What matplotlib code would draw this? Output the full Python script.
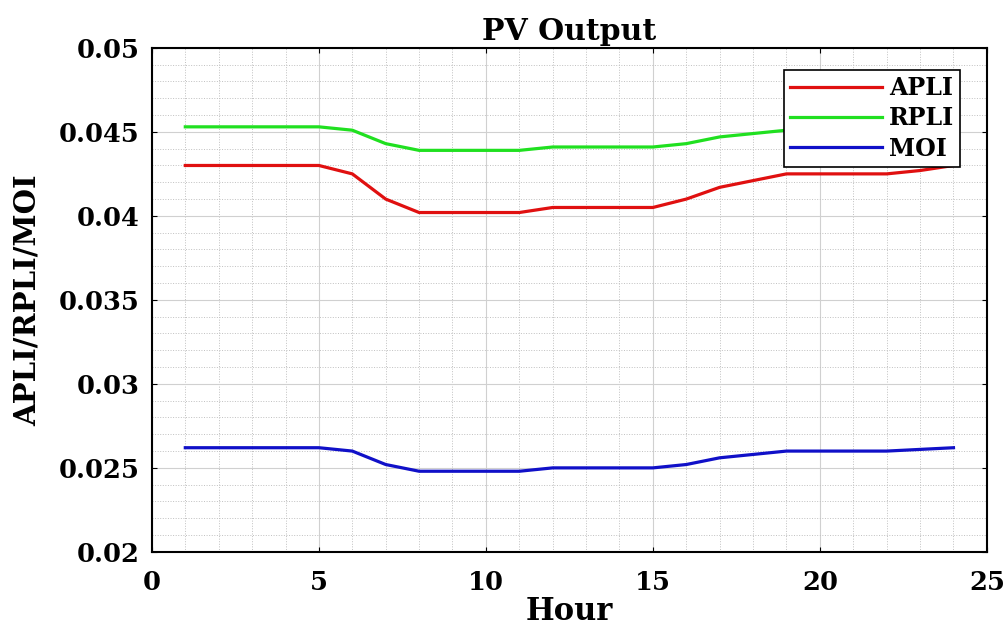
import numpy as np
import matplotlib.pyplot as plt
from matplotlib.ticker import MultipleLocator

hours = list(range(1, 25))
apli = [0.0430, 0.0430, 0.0430, 0.0430, 0.0430, 0.0425, 0.0410, 0.0402, 0.0402, 0.0402,
        0.0402, 0.0405, 0.0405, 0.0405, 0.0405, 0.0410, 0.0417, 0.0421, 0.0425, 0.0425,
        0.0425, 0.0425, 0.0427, 0.0430]
rpli = [0.0453, 0.0453, 0.0453, 0.0453, 0.0453, 0.0451, 0.0443, 0.0439, 0.0439, 0.0439,
        0.0439, 0.0441, 0.0441, 0.0441, 0.0441, 0.0443, 0.0447, 0.0449, 0.0451, 0.0451,
        0.0451, 0.0451, 0.0452, 0.0453]
moi = [0.0262, 0.0262, 0.0262, 0.0262, 0.0262, 0.0260, 0.0252, 0.0248, 0.0248, 0.0248,
       0.0248, 0.0250, 0.0250, 0.0250, 0.0250, 0.0252, 0.0256, 0.0258, 0.0260, 0.0260,
       0.0260, 0.0260, 0.0261, 0.0262]
yticks = [0.02, 0.025, 0.03, 0.035, 0.04, 0.045, 0.05]
ylabels = ['0.02', '0.025', '0.03', '0.035', '0.04', '0.045', '0.05']

plt.rcParams['font.family'] = ['DejaVu Serif']
plt.rcParams['font.weight'] = 'bold'

fig = plt.figure(figsize=(10.06, 6.3), dpi=100)
ax = fig.add_axes([0.151, 0.124, 0.830, 0.800])

ax.plot(hours, apli, color='#e01010', lw=2.3, label='APLI')
ax.plot(hours, rpli, color='#20e020', lw=2.3, label='RPLI')
ax.plot(hours, moi, color='#1010c8', lw=2.3, label='MOI')

ax.set_xlim(0, 25)
ax.set_ylim(0.02, 0.05)
ax.xaxis.set_major_locator(MultipleLocator(5))
ax.xaxis.set_minor_locator(MultipleLocator(1))
ax.yaxis.set_minor_locator(MultipleLocator(0.001))
ax.set_yticks(yticks)
ax.set_yticklabels(ylabels)
ax.grid(which='major', color='#d0d0d0', lw=0.8)
ax.grid(which='minor', color='#c0c0c0', lw=0.7, ls=':')
ax.tick_params(which='both', direction='in', top=True, right=True, labelsize=18.5)
ax.tick_params(axis='x', pad=13)
ax.tick_params(axis='y', pad=9)
ax.tick_params(which='minor', length=0)
for s in ax.spines.values():
    s.set_linewidth(1.5)

ax.set_title('PV Output', fontsize=21.5, fontweight='bold', pad=6)
ax.set_xlabel('Hour', fontsize=22, fontweight='bold', labelpad=1)
ax.set_ylabel('APLI/RPLI/MOI', fontsize=21, fontweight='bold', labelpad=12)

leg = ax.legend(loc='upper right', bbox_to_anchor=(0.968, 0.956), borderaxespad=0,
                fontsize=17, fancybox=False, edgecolor='black', framealpha=1,
                handlelength=3.9, borderpad=0.25, labelspacing=0.27, handletextpad=0.3)
leg.get_frame().set_linewidth(1.2)

fig.savefig('out.png', dpi=100)
